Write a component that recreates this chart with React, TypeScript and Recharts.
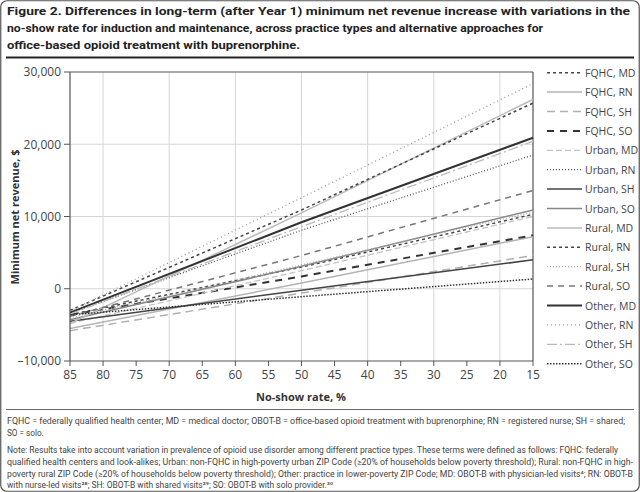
import React from "react";
import { LineChart, Line, XAxis, YAxis, ReferenceLine } from "recharts";

// No-show rate (%) at which values were read
const noShowRates = [85, 50, 15];

// Minimum net revenue ($) per series at each rate above
const fqhcMD = [-3600, 3000, 10300];
const fqhcRN = [-5500, 800, 7200];
const fqhcSH = [-5800, -600, 4600];
const fqhcSO = [-3600, 1700, 7400];
const urbanMD = [-4800, 2500, 10000];
const urbanRN = [-3400, 8100, 18500];
const urbanSH = [-4500, -200, 4000];
const urbanSO = [-4300, 3100, 10900];
const ruralMD = [-4800, 10500, 26200];
const ruralRN = [-3000, 10900, 25700];
const ruralSH = [-4000, 3300, 10600];
const ruralSO = [-3800, 4600, 13600];
const otherMD = [-3300, 9200, 20900];
const otherRN = [-3100, 12600, 28400];
const otherSH = [-3500, 8600, 20400];
const otherSO = [-3600, -1100, 1350];

const xTicks = [85, 80, 75, 70, 65, 60, 55, 50, 45, 40, 35, 30, 25, 20, 15];
const xGrid = [80, 70, 60, 50, 40, 30, 20];
const yTicks = [-10000, 0, 10000, 20000, 30000];
const yGrid = [0, 10000, 20000];

type S = { key: string; name: string; values: number[]; color: string; width: number; dash?: string };

const series: S[] = [
  { key: "fqhcMD", name: "FQHC, MD", values: fqhcMD, color: "#444", width: 1.5, dash: "3 3" },
  { key: "fqhcRN", name: "FQHC, RN", values: fqhcRN, color: "#b4b4b4", width: 1.5 },
  { key: "fqhcSH", name: "FQHC, SH", values: fqhcSH, color: "#b0b0b0", width: 1.5, dash: "8 5" },
  { key: "fqhcSO", name: "FQHC, SO", values: fqhcSO, color: "#333", width: 2, dash: "7 6" },
  { key: "urbanMD", name: "Urban, MD", values: urbanMD, color: "#c4c4c4", width: 1.3, dash: "6 3" },
  { key: "urbanRN", name: "Urban, RN", values: urbanRN, color: "#555", width: 1.3, dash: "1 2" },
  { key: "urbanSH", name: "Urban, SH", values: urbanSH, color: "#444", width: 1.5 },
  { key: "urbanSO", name: "Urban, SO", values: urbanSO, color: "#888", width: 1.5 },
  { key: "ruralMD", name: "Rural, MD", values: ruralMD, color: "#bbb", width: 1.5 },
  { key: "ruralRN", name: "Rural, RN", values: ruralRN, color: "#444", width: 1.5, dash: "3 3" },
  { key: "ruralSH", name: "Rural, SH", values: ruralSH, color: "#aaa", width: 1.3, dash: "1 2" },
  { key: "ruralSO", name: "Rural, SO", values: ruralSO, color: "#777", width: 1.5, dash: "6 5" },
  { key: "otherMD", name: "Other, MD", values: otherMD, color: "#333", width: 2 },
  { key: "otherRN", name: "Other, RN", values: otherRN, color: "#999", width: 1.3, dash: "1 3" },
  { key: "otherSH", name: "Other, SH", values: otherSH, color: "#bbb", width: 1.3, dash: "10 3 2 3" },
  { key: "otherSO", name: "Other, SO", values: otherSO, color: "#333", width: 1.5, dash: "1.5 1.5" },
];

const data = noShowRates.map((x, i) => {
  const row: Record<string, number> = { x };
  series.forEach((s) => (row[s.key] = s.values[i]));
  return row;
});

const FONT = "'Open Sans', 'Noto Sans', sans-serif";
const NARROW = "Roboto, 'Liberation Sans', sans-serif";

const fmtY = (v: number) => (v < 0 ? "\u2013" : "") + Math.abs(v).toLocaleString("en-US");

export default function App() {
  return (
    <div style={{ position: "absolute", left: 0, top: 0, width: 640, height: 492, background: "#fff", overflow: "hidden" }}>
      <LineChart width={640} height={410} data={data} margin={{ top: 72, right: 107, bottom: 19, left: 8 }}>
        {xGrid.map((v) => (
          <ReferenceLine key={"gx" + v} x={v} stroke="#d6d6d6" strokeWidth={1} />
        ))}
        {yGrid.map((v) => (
          <ReferenceLine key={"gy" + v} y={v} stroke="#d6d6d6" strokeWidth={1} />
        ))}
        <ReferenceLine y={30000} stroke="#555" strokeWidth={1.2} />
        <ReferenceLine x={15} stroke="#555" strokeWidth={1.2} />
        <XAxis
          dataKey="x"
          type="number"
          domain={[15, 85]}
          reversed
          ticks={xTicks}
          interval={0}
          height={30}
          tickSize={5}
          tickMargin={4}
          axisLine={{ stroke: "#555", strokeWidth: 1.2 }}
          tickLine={{ stroke: "#555" }}
          tick={{ fontSize: 12, fill: "#444", fontFamily: FONT }}
        />
        <YAxis
          type="number"
          domain={[-10000, 30000]}
          ticks={yTicks}
          interval={0}
          width={62}
          tickSize={6}
          tickMargin={3}
          tickFormatter={fmtY}
          axisLine={{ stroke: "#555", strokeWidth: 1.2 }}
          tickLine={{ stroke: "#555" }}
          tick={{ fontSize: 12, fill: "#444", fontFamily: FONT }}
        />
        {series.map((s) => (
          <Line
            key={s.key}
            dataKey={s.key}
            name={s.name}
            type="linear"
            stroke={s.color}
            strokeWidth={s.width}
            strokeDasharray={s.dash}
            dot={false}
            activeDot={false}
            isAnimationActive={false}
          />
        ))}
      </LineChart>

      <svg width={640} height={492} style={{ position: "absolute", left: 0, top: 0, pointerEvents: "none" }}>
        <rect x={0.75} y={0.75} width={638.5} height={490.5} rx={6} fill="none" stroke="#555" strokeWidth={1.2} />
        <g fontFamily={NARROW} fontWeight={700} fontSize={11.8} fill="#222">
          <text x={7} y={15} textLength={623} lengthAdjust="spacingAndGlyphs">
            Figure 2. Differences in long-term (after Year 1) minimum net revenue increase with variations in the
          </text>
          <text x={7} y={32} textLength={536} lengthAdjust="spacingAndGlyphs">
            no-show rate for induction and maintenance, across practice types and alternative approaches for
          </text>
          <text x={7} y={49} textLength={293} lengthAdjust="spacingAndGlyphs">
            office-based opioid treatment with buprenorphine.
          </text>
        </g>
        <line x1={6} x2={634} y1={57.5} y2={57.5} stroke="#222" strokeWidth={2} />
        <text
          x={14}
          y={217}
          transform="rotate(-90 14 217)"
          textAnchor="middle"
          dominantBaseline="central"
          fontFamily={FONT}
          fontWeight={700}
          fontSize={11}
          fill="#333"
        >
          Minimum net revenue, $
        </text>
        <text x={301} y={401} textAnchor="middle" fontFamily={FONT} fontWeight={700} fontSize={11} fill="#333">
          No-show rate, %
        </text>
        <line x1={6} x2={634} y1={409.5} y2={409.5} stroke="#666" strokeWidth={1} />
        <g fontFamily={NARROW} fontSize={8.2} fill="#444">
          <text x={7} y={424} textLength={618} lengthAdjust="spacingAndGlyphs">
            FQHC = federally qualified health center; MD = medical doctor; OBOT-B = office-based opioid treatment with buprenorphine; RN = registered nurse; SH = shared;
          </text>
          <text x={7} y={436}>SO = solo.</text>
          <text x={7} y={453} textLength={611} lengthAdjust="spacingAndGlyphs">
            Note: Results take into account variation in prevalence of opioid use disorder among different practice types. These terms were defined as follows: FQHC: federally
          </text>
          <text x={7} y={465} textLength={626} lengthAdjust="spacingAndGlyphs">
            qualified health centers and look-alikes; Urban: non-FQHC in high-poverty urban ZIP Code (≥20% of households below poverty threshold); Rural: non-FQHC in high-
          </text>
          <text x={7} y={477} textLength={626} lengthAdjust="spacingAndGlyphs">
            poverty rural ZIP Code (≥20% of households below poverty threshold); Other: practice in lower-poverty ZIP Code; MD: OBOT-B with physician-led visits⁴; RN: OBOT-B
          </text>
          <text x={7} y={488} textLength={326} lengthAdjust="spacingAndGlyphs">
            with nurse-led visits²⁸; SH: OBOT-B with shared visits²⁹; SO: OBOT-B with solo provider.³⁰
          </text>
        </g>
        <g fontFamily={FONT} fontSize={10.5} fill="#444">
          {series.map((s, i) => {
            const y = 72.7 + i * 19.4;
            return (
              <g key={s.key}>
                <line x1={547} x2={582} y1={y} y2={y} stroke={s.color} strokeWidth={s.width} strokeDasharray={s.dash} />
                <text x={585} y={y} dominantBaseline="central">
                  {s.name}
                </text>
              </g>
            );
          })}
        </g>
      </svg>
    </div>
  );
}
